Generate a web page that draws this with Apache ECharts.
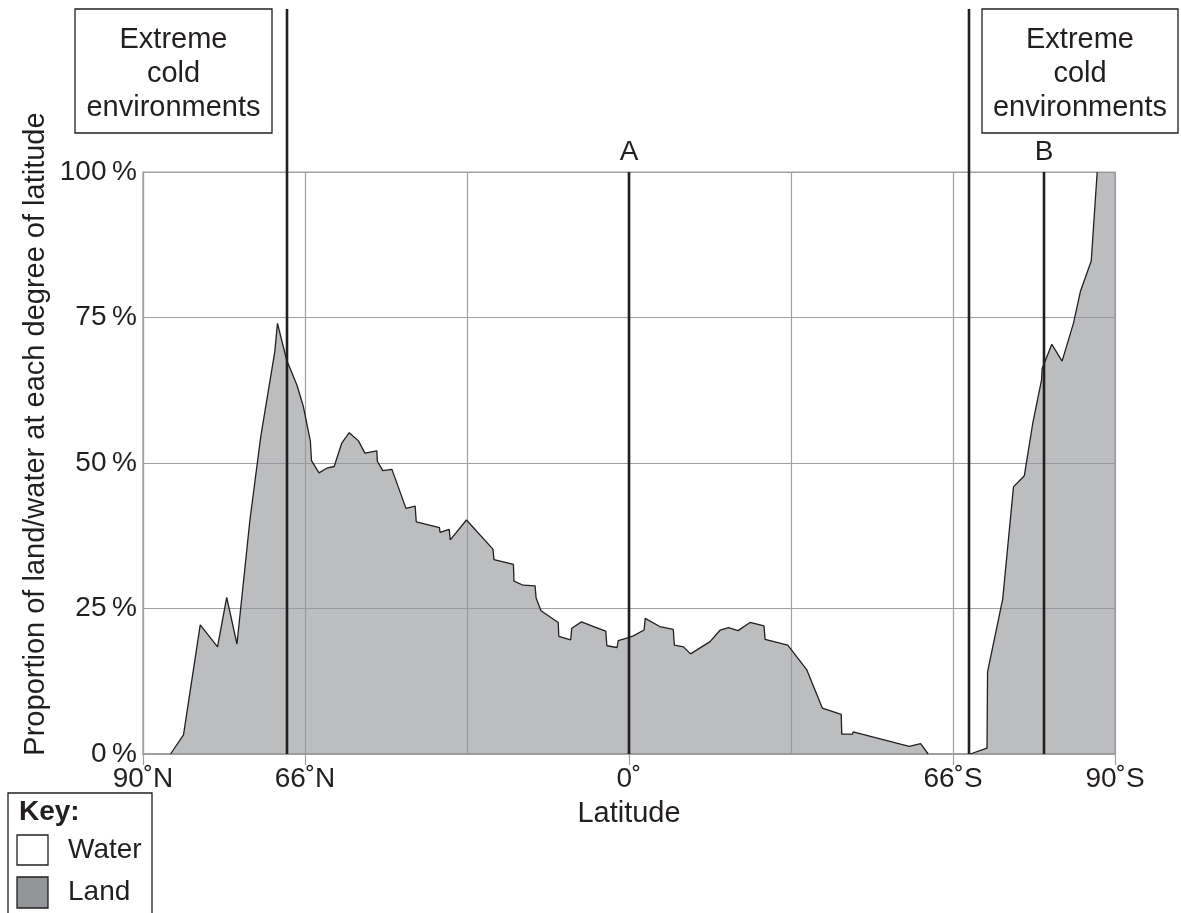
<!DOCTYPE html>
<html><head><meta charset="utf-8">
<script src="https://cdn.jsdelivr.net/npm/echarts@6/dist/echarts.min.js"></script>
<style>html,body{margin:0;padding:0;background:#fff}#c{width:1181px;height:913px}</style>
</head><body><div id="c"></div>
<script>
// Position along the axis: 0 = 90˚N ... 180 = 90˚S (six equal columns of 30)
const northPos  = [5.1,7.5,10.6,13.8,15.5,17.4,19.8,21.8,24.4,24.9,26.6,28.5,29.7,31.0,31.2,32.6,34.0,35.4,36.8,38.2,39.9,41.1,43.3,43.4,44.4,46.1,48.7,50.4,50.6,54.9,55.0,56.7,56.9,59.9,64.8,65.0,68.6,68.7,70.4,72.6,72.8,73.7,76.9,77.0,79.2,79.4,81.2,83.7,85.7,85.9,87.8,88.0,89.9,90.8,92.8,93.0,95.7,98.2,98.4,100.1,101.4,105.0,106.9,108.4,110.2,112.4,115.0,115.2,119.4,122.9,125.8,129.3,129.4,131.4,131.5,141.9,144.0,145.4];
const northLand = [0,3.3,22.2,18.4,26.9,18.9,40.2,54.5,69.1,74.0,67.7,63.4,59.7,53.7,50.4,48.3,49.1,49.4,53.4,55.2,53.8,51.7,52.1,50.3,48.7,48.9,42.2,42.6,39.9,38.9,38.1,38.6,36.8,40.2,35.2,33.4,32.6,29.7,29.0,28.9,26.8,24.6,22.6,20.2,19.6,21.6,22.7,21.8,21.1,18.6,18.3,19.5,20.0,20.3,21.3,23.3,21.9,21.4,18.7,18.4,17.2,19.3,21.3,21.7,21.2,22.6,22.0,19.7,18.7,14.5,7.9,6.8,3.4,3.4,3.8,1.3,1.8,0];
const southPos  = [153.2,156.3,156.4,159.2,161.2,163.2,164.8,166.4,166.5,168.3,170.2,172.3,173.6,175.6,176.7,180];
const southLand = [0,1.0,14.1,26.6,45.9,47.8,57.0,64.3,66.2,70.4,67.5,74.0,79.5,84.7,100,100];

const tickPos    = [0,30,90,150,180];
const tickLabels = ['90˚N','66˚N','0˚','66˚S','90˚S'];
const markerPos    = [26.7, 90, 153.0, 166.8];
const markerLabels = ['', 'A', '', 'B'];
const markerTall   = [true, false, true, false];

const FONT = "'Liberation Sans', Arial, Helvetica, sans-serif";
const INK = '#231f20';
const GRID = '#a0a0a2';

const chart = echarts.init(document.getElementById('c'));
const pairs = (xs, ys) => xs.map((p,i)=>[p, ys[i]]);
chart.setOption({
  animation:false,
  grid:{left:143, right:66, top:172, bottom:159, show:true, borderColor:GRID, borderWidth:1.2},
  xAxis:[{
    type:'value', min:0, max:180, interval:30,
    axisLine:{show:true, lineStyle:{color:GRID, width:2}},
    axisTick:{show:false}, axisLabel:{show:false},
    splitLine:{show:true, lineStyle:{color:GRID, width:1.2}}
  },{
    type:'value', min:0, max:180, position:'bottom',
    axisLine:{show:false}, splitLine:{show:false},
    axisTick:{show:true, customValues:tickPos, length:11, lineStyle:{color:GRID, width:1.2}},
    axisLabel:{customValues:tickPos, showMinLabel:true, showMaxLabel:true,
      formatter:v => tickLabels[tickPos.indexOf(v)],
      fontSize:28, color:INK, fontFamily:FONT, margin:11},
    name:'Latitude', nameLocation:'middle', nameGap:60,
    nameTextStyle:{fontSize:29, color:INK, fontFamily:FONT, verticalAlign:'middle'}
  }],
  yAxis:{
    type:'value', min:0, max:100, interval:25,
    axisLine:{show:true, lineStyle:{color:GRID, width:1.2}},
    axisTick:{show:false},
    axisLabel:{formatter:v => v + '\u2009%', fontSize:28, color:INK, fontFamily:FONT, margin:6},
    splitLine:{show:true, lineStyle:{color:GRID, width:1.2}}
  },
  series:[
    {type:'line', name:'Land', symbol:'none', z:3, data:pairs(northPos, northLand),
     lineStyle:{color:INK, width:1.3}, areaStyle:{color:'#939598', opacity:0.62}},
    {type:'line', name:'Land', symbol:'none', z:3, data:pairs(southPos, southLand),
     lineStyle:{width:0, opacity:0}, areaStyle:{color:'#939598', opacity:0.62}},
    {type:'line', name:'Land', symbol:'none', z:4, data:pairs(southPos.slice(0,-1), southLand.slice(0,-1)),
     lineStyle:{color:INK, width:1.3}}
  ]
});

const px = v => chart.convertToPixel({xAxisIndex:0}, v);
const py = v => chart.convertToPixel({yAxisIndex:0}, v);
const y0 = py(0), y100 = py(100);
const txt = (x, y, text, size, extra) => Object.assign({type:'text', x, y, z:50,
  style:Object.assign({text, fontSize:size, fontFamily:FONT, fill:INK, align:'center', verticalAlign:'middle'}, extra||{})});
const g = [];
markerPos.forEach((p, i) => {
  const x = Math.round(px(p));
  g.push({type:'line', z:60, shape:{x1:x, y1: markerTall[i] ? 9 : y100, x2:x, y2:y0},
    style:{stroke:INK, lineWidth:2.6}});
  if (markerLabels[i]) g.push(txt(x, y100 - 20, markerLabels[i], 28));
});
// annotation boxes
g.push({type:'rect', z:40, shape:{x:75, y:9, width:197, height:124}, style:{fill:'#fff', stroke:INK, lineWidth:1.3}});
g.push(txt(173.5, 74, 'Extreme\ncold\nenvironments', 29, {lineHeight:34}));
g.push({type:'rect', z:40, shape:{x:982, y:9, width:196, height:124}, style:{fill:'#fff', stroke:INK, lineWidth:1.3}});
g.push(txt(1080, 74, 'Extreme\ncold\nenvironments', 29, {lineHeight:34}));
// y title
g.push(Object.assign(txt(36, 434, 'Proportion of land/water at each degree of latitude', 29), {rotation:Math.PI/2}));
// key
g.push({type:'rect', z:40, shape:{x:8, y:793, width:144, height:140}, style:{fill:'#fff', stroke:INK, lineWidth:1.3}});
g.push(txt(19, 812, 'Key:', 28, {align:'left', fontWeight:'bold'}));
g.push({type:'rect', z:45, shape:{x:17, y:835, width:31, height:30}, style:{fill:'#fff', stroke:INK, lineWidth:1.3}});
g.push(txt(68, 850, 'Water', 28, {align:'left'}));
g.push({type:'rect', z:45, shape:{x:17, y:877, width:31, height:31}, style:{fill:'#939598', stroke:INK, lineWidth:1.3}});
g.push(txt(68, 892, 'Land', 28, {align:'left'}));
chart.setOption({graphic:g});
</script></body></html>
